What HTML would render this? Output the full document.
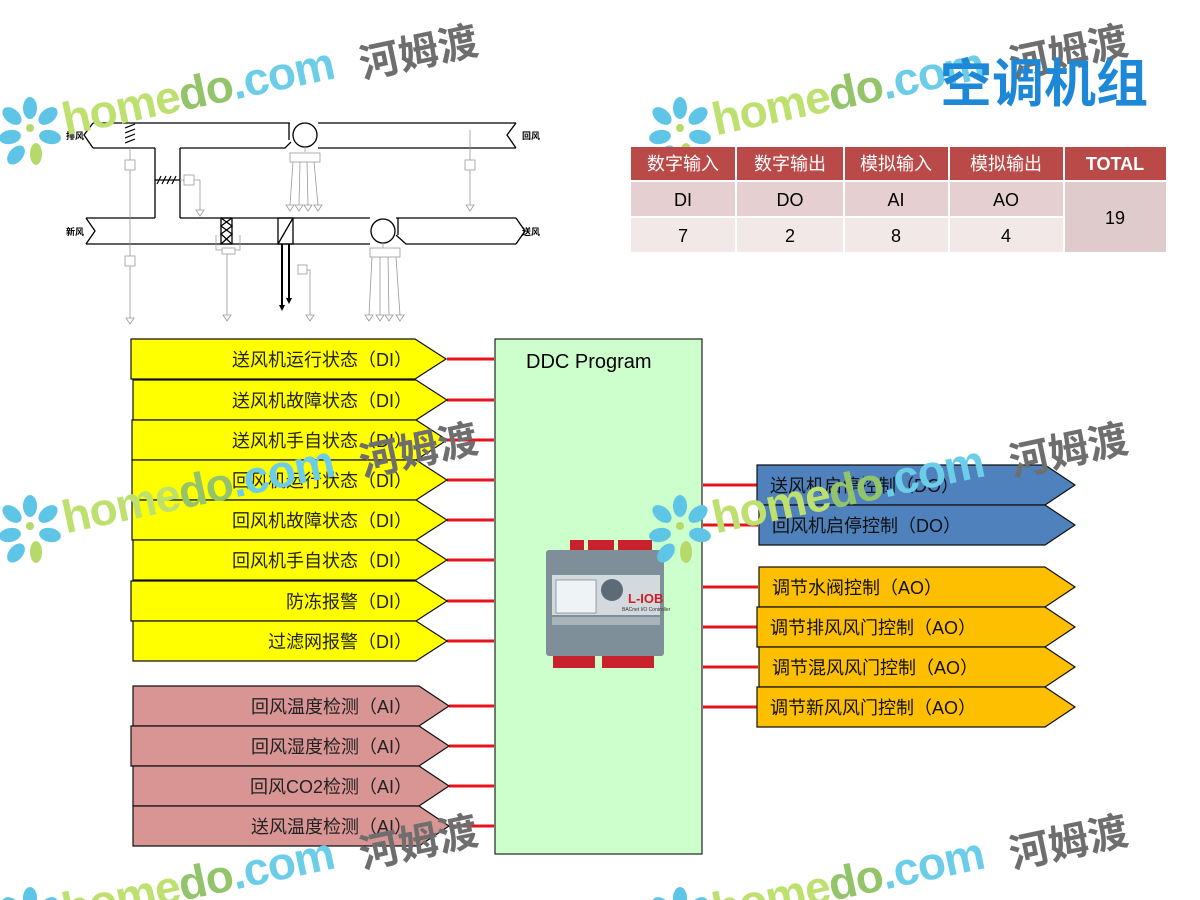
<!DOCTYPE html>
<html><head><meta charset="utf-8"><style>
html,body{margin:0;padding:0;background:#fff;width:1200px;height:900px;overflow:hidden;}
svg{display:block;}
text{font-family:"Liberation Sans","Noto Sans CJK SC",sans-serif;}
</style></head><body>
<svg width="1200" height="900" viewBox="0 0 1200 900" xmlns="http://www.w3.org/2000/svg" overflow="hidden">
<defs>
<clipPath id="page"><rect x="0" y="0" width="1200" height="900"/></clipPath>
<g id="wm">
  <g fill="#5ec5e6">
    <ellipse cx="30" cy="108" rx="7" ry="11"/>
    <ellipse cx="48" cy="116" rx="7" ry="11" transform="rotate(50 48 116)"/>
    <ellipse cx="50" cy="137" rx="7" ry="11" transform="rotate(100 50 137)"/>
    <ellipse cx="12" cy="116" rx="7" ry="11" transform="rotate(-50 12 116)"/>
    <ellipse cx="10" cy="137" rx="7" ry="11" transform="rotate(-100 10 137)"/>
    <ellipse cx="16" cy="155" rx="7" ry="11" transform="rotate(-140 16 155)"/>
  </g>
  <ellipse cx="36" cy="154" rx="6" ry="11" fill="#b5d96a"/>
  <circle cx="30" cy="128" r="4" fill="#b5d96a"/>
  <g transform="rotate(-12 68 135)">
    <text x="66" y="135" font-size="46" font-weight="bold" fill="#bde06f" letter-spacing="-1">home<tspan fill="#93c46a">do</tspan><tspan fill="#6ccde8">.com</tspan></text>
  </g>
  <g transform="rotate(-12 365 75)">
    <text x="362" y="78" font-size="40" fill="#6e6e6e" font-weight="bold">河姆渡</text>
  </g>
</g>
</defs>

<!-- AHU schematic -->
<g stroke="#000" stroke-width="1.3" fill="none">
  <polyline points="93,123 84,135 93,148"/>
  <line x1="93" y1="123" x2="290" y2="123"/>
  <line x1="318" y1="123" x2="516" y2="123"/>
  <polyline points="516,123 507,135 516,148"/>
  <line x1="93" y1="148" x2="155" y2="148"/>
  <line x1="155" y1="148" x2="155" y2="218"/>
  <line x1="180" y1="148" x2="180" y2="218"/>
  <polyline points="180,148 285,148 291,142"/>
  <line x1="318" y1="148" x2="516" y2="148"/>
  <circle cx="305" cy="135" r="12"/>
  <line x1="289" y1="123" x2="289" y2="140"/>
  <polyline points="86,218 95,231 86,244"/>
  <line x1="86" y1="218" x2="155" y2="218"/>
  <line x1="180" y1="218" x2="370" y2="218"/>
  <line x1="86" y1="244" x2="370" y2="244"/>
  <circle cx="383" cy="231" r="12"/>
  <line x1="396" y1="218" x2="516" y2="218"/>
  <polyline points="396,235 406,244 516,244"/>
  <line x1="398" y1="218" x2="398" y2="235"/>
  <polyline points="516,218 525,231 516,244"/>
  <rect x="221" y="218" width="11" height="26"/>
  <polyline points="221,218 232,226 221,234 232,244"/>
  <polyline points="232,218 221,226 232,234 221,244"/>
  <rect x="278" y="218" width="15" height="26"/>
  <line x1="278" y1="244" x2="293" y2="218"/>
  <line x1="282" y1="244" x2="282" y2="305" stroke-width="2"/>
  <line x1="289" y1="244" x2="289" y2="300" stroke-width="2"/>
</g>
<path d="M279,305 l3,6 l3,-6z M286,298 l3,6 l3,-6z" fill="#000"/>
<g stroke="#000" stroke-width="1.2">
  <line x1="125" y1="128" x2="135" y2="124"/><line x1="125" y1="133" x2="135" y2="129"/><line x1="125" y1="138" x2="135" y2="134"/><line x1="125" y1="143" x2="135" y2="139"/>
  <line x1="157" y1="184" x2="161" y2="176"/><line x1="162" y1="184" x2="166" y2="176"/><line x1="167" y1="184" x2="171" y2="176"/><line x1="172" y1="184" x2="176" y2="176"/>
  <line x1="155" y1="180" x2="180" y2="180"/>
</g>
<g stroke="#999" stroke-width="0.8" fill="none">
  <line x1="130" y1="148" x2="130" y2="318"/>
  <rect x="125" y="160" width="10" height="10" fill="#fff"/>
  <rect x="125" y="256" width="10" height="10" fill="#fff"/>
  <line x1="180" y1="180" x2="184" y2="180"/><rect x="184" y="175" width="10" height="10" fill="#fff"/>
  <polyline points="194,180 200,180 200,210"/>
  <line x1="470" y1="130" x2="470" y2="205"/><rect x="465" y="160" width="10" height="10" fill="#fff"/>
  <line x1="305" y1="147" x2="305" y2="152"/><rect x="290" y="153" width="30" height="9" fill="#fff"/>
  <line x1="293" y1="162" x2="290" y2="205"/><line x1="300" y1="162" x2="299" y2="205"/><line x1="307" y1="162" x2="308" y2="205"/><line x1="314" y1="162" x2="318" y2="205"/>
  <line x1="383" y1="243" x2="383" y2="248"/><rect x="370" y="248" width="30" height="9" fill="#fff"/>
  <line x1="372" y1="257" x2="369" y2="315"/><line x1="380" y1="257" x2="380" y2="315"/><line x1="388" y1="257" x2="389" y2="315"/><line x1="396" y1="257" x2="400" y2="315"/>
  <polyline points="216,235 216,250 240,250 240,235"/><rect x="222" y="248" width="13" height="6" fill="#fff"/>
  <line x1="227" y1="254" x2="227" y2="315"/>
  <rect x="298" y="265" width="9" height="9" fill="#fff"/>
  <polyline points="307,270 310,270 310,315"/>
  <path d="M126,318 h8 l-4,6z M196,210 h8 l-4,6z M466,205 h8 l-4,6z M286,205 h8 l-4,6z M295,205 h8 l-4,6z M304,205 h8 l-4,6z M314,205 h8 l-4,6z M365,315 h8 l-4,6z M376,315 h8 l-4,6z M385,315 h8 l-4,6z M396,315 h8 l-4,6z M223,315 h8 l-4,6z M306,315 h8 l-4,6z"/>
</g>
<g font-size="9" font-weight="bold" fill="#000">
  <text x="66" y="139">排风</text><text x="66" y="235">新风</text>
  <text x="522" y="139">回风</text><text x="522" y="235">送风</text>
</g>

<g clip-path="url(#page)">
<use href="#wm"/>
<use href="#wm" x="650"/>
</g>

<!-- title -->
<text x="940" y="102" font-size="52" font-weight="bold" fill="#1e88d8">空调机组</text>

<!-- table -->
<g>
  <rect x="631" y="147" width="104" height="33" fill="#b94a48"/>
  <rect x="737" y="147" width="106" height="33" fill="#b94a48"/>
  <rect x="845" y="147" width="103" height="33" fill="#b94a48"/>
  <rect x="950" y="147" width="113" height="33" fill="#b94a48"/>
  <rect x="1065" y="147" width="101" height="33" fill="#b94a48"/>
  <rect x="631" y="182" width="104" height="34" fill="#e6cfd0"/>
  <rect x="737" y="182" width="106" height="34" fill="#e6cfd0"/>
  <rect x="845" y="182" width="103" height="34" fill="#e6cfd0"/>
  <rect x="950" y="182" width="113" height="34" fill="#e6cfd0"/>
  <rect x="631" y="218" width="104" height="34" fill="#f2e8e8"/>
  <rect x="737" y="218" width="106" height="34" fill="#f2e8e8"/>
  <rect x="845" y="218" width="103" height="34" fill="#f2e8e8"/>
  <rect x="950" y="218" width="113" height="34" fill="#f2e8e8"/>
  <rect x="1065" y="182" width="101" height="70" fill="#e0cbcc"/>
  <g font-size="18" fill="#fff" text-anchor="middle">
    <text x="683" y="170">数字输入</text><text x="790" y="170">数字输出</text><text x="896" y="170">模拟输入</text><text x="1006" y="170">模拟输出</text>
    <text x="1115" y="170" font-weight="bold">TOTAL</text>
  </g>
  <g font-size="18" fill="#000" text-anchor="middle">
    <text x="683" y="206">DI</text><text x="790" y="206">DO</text><text x="896" y="206">AI</text><text x="1006" y="206">AO</text>
    <text x="683" y="242">7</text><text x="790" y="242">2</text><text x="896" y="242">8</text><text x="1006" y="242">4</text>
    <text x="1115" y="224">19</text>
  </g>
</g>

<!-- DDC box -->
<rect x="495" y="339" width="207" height="515" fill="#ccffcc" stroke="#222" stroke-width="1.2"/>
<text x="526" y="368" font-size="20" fill="#000">DDC Program</text>

<!-- red lines -->
<g stroke="#e8141c" stroke-width="3">
  <line x1="447" y1="359" x2="494" y2="359"/><line x1="447" y1="400" x2="494" y2="400"/><line x1="447" y1="440" x2="494" y2="440"/><line x1="447" y1="480" x2="494" y2="480"/>
  <line x1="447" y1="520" x2="494" y2="520"/><line x1="447" y1="560" x2="494" y2="560"/><line x1="447" y1="601" x2="494" y2="601"/><line x1="447" y1="641" x2="494" y2="641"/>
  <line x1="449" y1="706" x2="494" y2="706"/><line x1="449" y1="746" x2="494" y2="746"/><line x1="449" y1="786" x2="494" y2="786"/><line x1="449" y1="826" x2="494" y2="826"/>
  <line x1="703" y1="485" x2="758" y2="485"/><line x1="703" y1="525" x2="758" y2="525"/>
  <line x1="703" y1="587" x2="758" y2="587"/><line x1="703" y1="627" x2="758" y2="627"/><line x1="703" y1="667" x2="758" y2="667"/><line x1="703" y1="707" x2="758" y2="707"/>
</g>

<!-- yellow DI -->
<g stroke="#111" stroke-width="1.2" fill="#ffff00">
  <path d="M131,339 H415 L446,359 L415,379 H131Z"/>
  <path d="M133,380 H416 L447,400 L416,420 H133Z"/>
  <path d="M132,420 H416 L447,440 L416,460 H132Z"/>
  <path d="M132,460 H416 L447,480 L416,500 H132Z"/>
  <path d="M132,500 H416 L447,520 L416,540 H132Z"/>
  <path d="M133,540 H416 L447,560 L416,580 H133Z"/>
  <path d="M131,581 H416 L447,601 L416,621 H131Z"/>
  <path d="M133,621 H416 L447,641 L416,661 H133Z"/>
</g>
<g font-size="18" fill="#222" text-anchor="end">
  <text x="412" y="366">送风机运行状态（DI）</text>
  <text x="412" y="407">送风机故障状态（DI）</text>
  <text x="412" y="447">送风机手自状态（DI）</text>
  <text x="412" y="487">回风机运行状态（DI）</text>
  <text x="412" y="527">回风机故障状态（DI）</text>
  <text x="412" y="567">回风机手自状态（DI）</text>
  <text x="412" y="608">防冻报警（DI）</text>
  <text x="412" y="648">过滤网报警（DI）</text>
</g>

<!-- pink AI -->
<g stroke="#111" stroke-width="1.2" fill="#d99594">
  <path d="M133,686 H419 L449,706 L419,726 H133Z"/>
  <path d="M131,726 H419 L449,746 L419,766 H131Z"/>
  <path d="M133,766 H419 L449,786 L419,806 H133Z"/>
  <path d="M133,806 H419 L449,826 L419,846 H133Z"/>
</g>
<g font-size="18" fill="#222" text-anchor="end">
  <text x="412" y="713">回风温度检测（AI）</text>
  <text x="412" y="753">回风湿度检测（AI）</text>
  <text x="412" y="793">回风CO2检测（AI）</text>
  <text x="412" y="833">送风温度检测（AI）</text>
</g>

<!-- blue DO -->
<g stroke="#111" stroke-width="1.2" fill="#4f81bd">
  <path d="M757,465 H1045 L1075,485 L1045,505 H757Z"/>
  <path d="M759,505 H1045 L1075,525 L1045,545 H759Z"/>
</g>
<g font-size="18" fill="#111">
  <text x="770" y="492">送风机启停控制（DO）</text>
  <text x="772" y="532">回风机启停控制（DO）</text>
</g>

<!-- orange AO -->
<g stroke="#111" stroke-width="1.2" fill="#fdbf00">
  <path d="M759,567 H1045 L1075,587 L1045,607 H759Z"/>
  <path d="M757,607 H1045 L1075,627 L1045,647 H757Z"/>
  <path d="M759,647 H1045 L1075,667 L1045,687 H759Z"/>
  <path d="M757,687 H1045 L1075,707 L1045,727 H757Z"/>
</g>
<g font-size="18" fill="#111">
  <text x="772" y="594">调节水阀控制（AO）</text>
  <text x="770" y="634">调节排风风门控制（AO）</text>
  <text x="772" y="674">调节混风风门控制（AO）</text>
  <text x="770" y="714">调节新风风门控制（AO）</text>
</g>

<!-- controller -->
<g>
  <rect x="570" y="540" width="14" height="12" fill="#c8232c"/>
  <rect x="588" y="540" width="26" height="12" fill="#c8232c"/>
  <rect x="618" y="540" width="34" height="12" fill="#c8232c"/>
  <rect x="546" y="550" width="118" height="106" rx="3" fill="#7e8f99"/>
  <rect x="552" y="575" width="108" height="40" fill="#d3dade"/>
  <rect x="556" y="580" width="40" height="33" fill="#eef3f6" stroke="#556" stroke-width="0.5"/>
  <circle cx="612" cy="590" r="11" fill="#5c6b75"/>
  <text x="628" y="603" font-size="13" font-weight="bold" fill="#d01e24">L-IOB</text>
  <text x="622" y="611" font-size="5" fill="#333">BACnet I/O Controller</text>
  <rect x="552" y="617" width="108" height="8" fill="#a9b4ba"/>
  <rect x="553" y="656" width="42" height="12" fill="#c8232c"/>
  <rect x="602" y="656" width="52" height="12" fill="#c8232c"/>
</g>

<g clip-path="url(#page)">
<use href="#wm" y="398"/>
<use href="#wm" x="650" y="398"/>
<use href="#wm" y="790"/>
<use href="#wm" x="650" y="790"/>
</g>
</svg>
</body></html>
